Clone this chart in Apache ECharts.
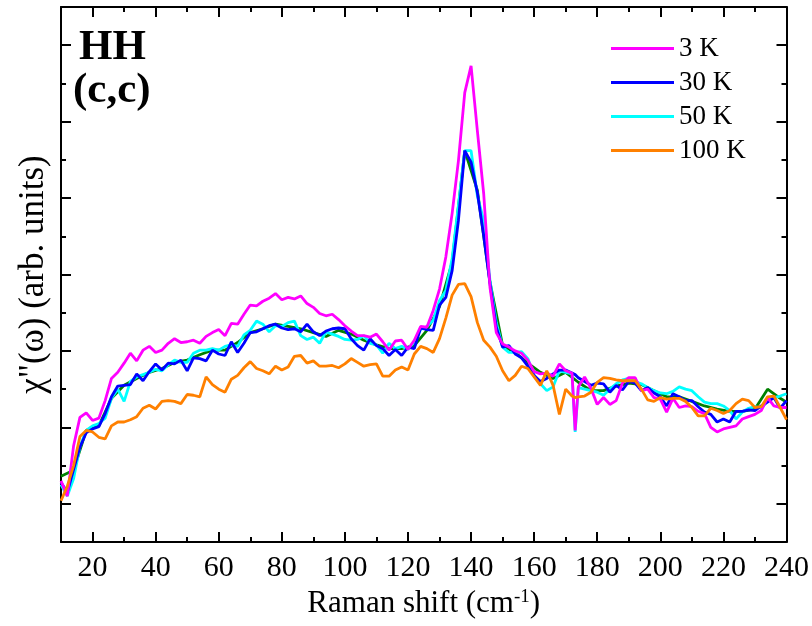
<!DOCTYPE html>
<html><head><meta charset="utf-8">
<script src="https://cdn.jsdelivr.net/npm/echarts@6/dist/echarts.min.js"></script>
<style>html,body{margin:0;padding:0;background:#fff}#c{width:812px;height:626px}</style>
</head><body><div id="c"></div>
<script>
// Raman shift grid (cm^-1)
const ramanShift = [
 10,12,14,16,18,20,22,24,26,28,30,32,34,36,38,40,42,44,46,48,
 50,52,54,56,58,60,62,64,66,68,70,72,74,76,78,80,82,84,86,88,
 90,92,94,96,98,100,102,104,106,108,110,112,114,116,118,120,122,124,126,128,
 130,132,134,136,138,140,142,144,146,148,150,152,154,156,158,160,162,164,166,168,
 170,172,173,174,176,178,180,182,184,186,188,190,192,194,196,198,200,202,204,206,208,
 210,212,214,216,218,220,222,224,226,228,230,232,234,236,238,240];
const chi3K = [
 30,10,76,113,119,109,112,135,164,172,184,197,187,201,206,198,201,210,216,211,
 212,214,210,219,224,228,220,236,235,248,260,259,265,269,275,267,270,268,272,262,
 257,249,246,248,241,233,226,220,220,218,222,212,201,213,214,202,214,232,231,253,
 281,323,380,449,538,573,488,406,283,224,209,205,200,197,188,173,170,171,167,183,
 174,171,96,153,166,151,130,139,130,135,158,165,165,148,150,139,137,120,138,126,128,
 127,121,118,100,94,98,100,102,111,114,117,122,139,128,126,126];
const chi30K = [
 28,15,45,74,93,98,101,118,140,154,155,156,170,161,173,183,175,184,183,188,
 174,191,190,187,201,196,194,212,198,210,224,225,229,233,235,230,228,229,225,235,
 225,220,226,229,230,229,216,207,201,216,207,203,194,202,194,205,203,230,228,227,
 260,270,305,371,462,447,407,351,288,231,205,207,196,191,180,168,160,164,170,175,
 175,171,169,165,160,155,158,157,146,155,149,160,158,148,152,145,140,128,144,140,135,
 135,127,120,117,107,111,107,121,121,123,122,128,133,139,125,135];
const chi50K = [
 25,10,33,75,96,102,105,112,138,150,134,160,166,169,172,176,174,182,188,185,
 185,197,201,201,203,201,206,208,206,221,227,239,235,225,233,232,237,239,220,215,
 218,210,225,222,219,215,214,215,220,210,208,197,210,203,206,202,212,228,232,240,
 266,279,321,391,462,462,403,371,292,237,205,198,198,199,190,168,157,148,153,174,
 172,170,94,152,150,148,146,142,150,157,162,164,160,157,152,148,145,144,147,153,150,
 148,140,133,131,131,128,122,111,120,125,127,125,134,139,141,144];
const chi100K = [
 4,23,50,88,96,94,87,85,102,107,107,110,114,125,129,124,134,135,134,131,
 143,142,140,166,156,150,146,163,168,178,186,177,174,170,180,175,179,193,194,184,
 187,180,180,181,178,183,190,185,180,182,183,167,167,175,179,175,196,206,203,198,
 216,243,273,287,288,271,237,214,205,193,174,161,168,180,177,166,155,174,155,117,
 150,141,139,140,141,146,159,165,164,162,161,161,161,150,136,134,139,137,138,138,134,
 126,115,115,125,122,118,122,131,137,135,126,127,140,141,126,110];
// partly hidden extra (green) trace
const greenShift = [10,14,18,22,26,30,34,38,42,46,50,54,58,62,66,70,74,78,82,86,90,94,98,102,106,110,114,118,122,126,130,134,138,142,146,150,154,158,162,166,170,174,178,182,186,190,194,198,202,206,210,214,218,222,226,230,234,238,240];
const chiGreen = [36,44,96,102,138,155,164,172,177,185,188,195,201,201,211,224,229,235,232,229,224,219,227,222,214,208,203,203,207,227,258,316,462,410,290,207,198,184,172,164,172,159,148,148,154,158,156,148,140,140,134,128,124,121,121,124,150,138,133];

const legendNames = ['3 K','30 K','50 K','100 K'];
const xTickLabels = [20,40,60,80,100,120,140,160,180,200,220,240];
const xMinorTicks = [30,50,70,90,110,130,150,170,190,210,230];
const yMajorTicks = [0,100,200,300,400,500,600];
const yMinorTicks = [50,150,250,350,450,550];

const FONT = '"Liberation Serif", "Times New Roman", serif';
const X_MIN = 10, X_MAX = 240, Y_MIN = -50, Y_MAX = 650;

function xAx(pos, ticks, len, major, label) {
  return {
    type: 'value', position: pos, min: X_MIN, max: X_MAX, gridIndex: 0,
    axisLine: { show: major, onZero: false, lineStyle: { color: '#000', width: 2 } },
    axisTick: { show: true, inside: true, length: len, customValues: ticks, lineStyle: { color: '#000', width: 2 } },
    axisLabel: label ? { show: true, customValues: xTickLabels, color: '#000', fontSize: 30, fontFamily: FONT, margin: 11 } : { show: false },
    splitLine: { show: false }
  };
}
function yAx(pos, ticks, len, major) {
  return {
    type: 'value', position: pos, min: Y_MIN, max: Y_MAX, gridIndex: 0,
    axisLine: { show: major, onZero: false, lineStyle: { color: '#000', width: 2 } },
    axisTick: { show: true, inside: true, length: len, customValues: ticks, lineStyle: { color: '#000', width: 2 } },
    axisLabel: { show: false },
    splitLine: { show: false }
  };
}
const xAxes = [
  xAx('bottom', xTickLabels, 10, true, true),
  xAx('bottom', xMinorTicks, 5, false, false),
  xAx('top', xTickLabels, 10, true, false),
  xAx('top', xMinorTicks, 5, false, false)
];
Object.assign(xAxes[0], {
  name: '{a|Raman shift (cm}{s|-1}{a|)}', nameLocation: 'middle', nameGap: 41,
  nameTextStyle: { color: '#000', rich: { a: { fontSize: 31, fontFamily: FONT, color: '#000' }, s: { fontSize: 19, fontFamily: FONT, color: '#000', verticalAlign: 'top' } } }
});
const yAxes = [
  yAx('left', yMajorTicks, 10, true),
  yAx('left', yMinorTicks, 5, false),
  yAx('right', yMajorTicks, 10, true),
  yAx('right', yMinorTicks, 5, false)
];
Object.assign(yAxes[0], {
  name: 'χ"(ω) (arb. units)', nameLocation: 'middle', nameGap: 10, nameRotate: 90,
  nameTextStyle: { color: '#000', fontSize: 35, fontFamily: FONT }
});

function pairs(xs, ys) { return xs.map((x, i) => [x, ys[i]]); }
function line(name, xs, ys, color, z) {
  return { name: name, type: 'line', xAxisIndex: 0, yAxisIndex: 0, data: pairs(xs, ys),
    showSymbol: false, symbol: 'none', z: z,
    lineStyle: { color: color, width: 2.8 }, itemStyle: { color: color } };
}

const chart = echarts.init(document.getElementById('c'));
chart.setOption({
  animation: false,
  backgroundColor: '#fff',
  grid: { left: 61, top: 7, right: 25, bottom: 84, containLabel: false },
  xAxis: xAxes,
  yAxis: yAxes,
  legend: {
    data: legendNames, orient: 'vertical', left: 611, top: 35, padding: 0,
    itemWidth: 63, itemHeight: 3, itemGap: 7, icon: 'rect', selectedMode: false,
    textStyle: { fontSize: 27, fontFamily: FONT, color: '#000' }
  },
  graphic: [
    { type: 'text', left: 79, top: 26, style: { text: 'HH', font: 'bold 43px "Liberation Serif", serif', fill: '#000' } },
    { type: 'text', left: 73, top: 69, style: { text: '(c,c)', font: 'bold 43px "Liberation Serif", serif', fill: '#000' } }
  ],
  series: [
    line('green', greenShift, chiGreen, '#008000', 1),
    line('50 K', ramanShift, chi50K, '#00FFFF', 2),
    line('30 K', ramanShift, chi30K, '#0000FF', 3),
    line('3 K', ramanShift, chi3K, '#FF00FF', 4),
    line('100 K', ramanShift, chi100K, '#FF8000', 5)
  ]
});
</script>
</body></html>
